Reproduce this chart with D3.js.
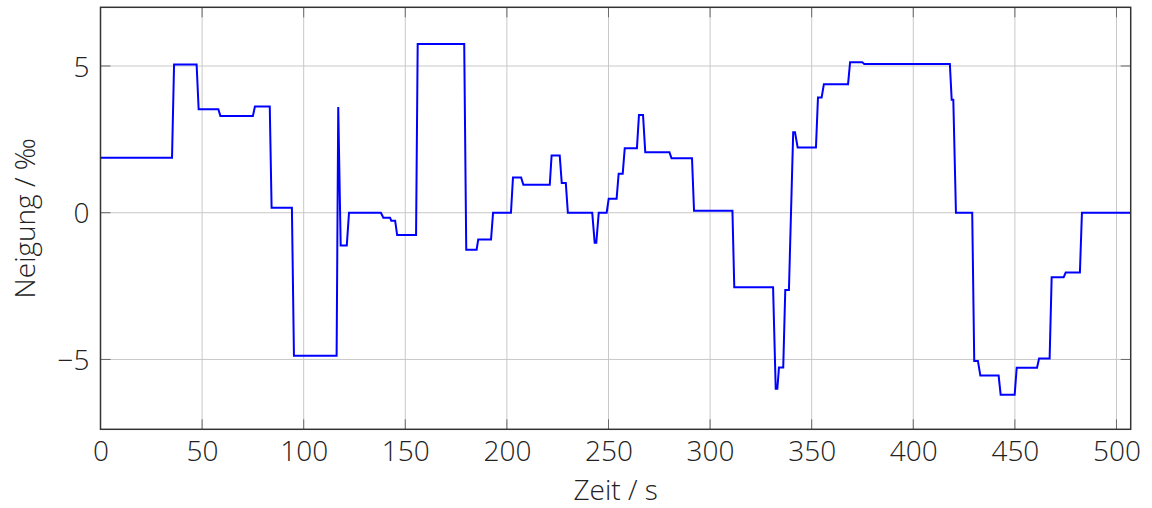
<!DOCTYPE html>
<html>
<head>
<meta charset="utf-8">
<script src="https://cdn.jsdelivr.net/npm/d3@7/dist/d3.min.js"></script>
<style>
  html, body { margin: 0; padding: 0; background: #fff; }
  svg { display: block; }
  text { font-family: "Open Sans", sans-serif; font-weight: 300; fill: #222; }
</style>
</head>
<body>
<svg id="chart" width="1152" height="508"></svg>
<script>
// Data
const timeSec = [0, 35.2, 36.2, 47.3, 48.3, 58, 59, 75, 76, 83.3, 84.2, 94.2, 95.2, 116.2, 117, 118.2, 121.2, 122.3,
  138, 139.2, 142.5, 143.1, 145, 146, 155.3, 156.1, 179, 180, 185.1, 185.9, 192.2, 193.2, 202, 203, 207, 208.1,
  221.1, 222, 226, 227, 229, 230, 242, 243.2, 244, 245.2, 249.1, 250.1, 254, 255, 257, 258, 264, 265, 267, 268.1,
  280, 281, 291.1, 292.1, 311, 311.9, 331, 332.3, 333.1, 333.9, 336, 337, 338.8, 340.9, 341.8, 343.1, 352.1, 353.1,
  354.9, 356, 367.9, 368.9, 374.9, 375.9, 418, 418.9, 419.7, 421, 429, 430, 431.8, 433, 442, 443, 449.9, 450.9,
  460.9, 461.9, 467.1, 468.1, 474, 475, 482, 483, 507];
const gradient = [1.87, 1.87, 5.05, 5.05, 3.53, 3.53, 3.30, 3.30, 3.62, 3.62, 0.17, 0.17, -4.87, -4.87, 3.6, -1.12, -1.12, 0,
  0, -0.17, -0.17, -0.27, -0.27, -0.76, -0.76, 5.75, 5.75, -1.26, -1.26, -0.91, -0.91, 0, 0, 1.2, 1.2, 0.95,
  0.95, 1.95, 1.95, 1.01, 1.01, 0, 0, -1.02, -1.02, 0, 0, 0.48, 0.48, 1.33, 1.33, 2.2, 2.2, 3.33, 3.33, 2.06,
  2.06, 1.86, 1.86, 0.07, 0.07, -2.54, -2.54, -6.0, -6.0, -5.27, -5.27, -2.63, -2.63, 2.74, 2.74, 2.22, 2.22, 3.93,
  3.93, 4.38, 4.38, 5.13, 5.13, 5.07, 5.07, 3.85, 3.85, 0, 0, -5.05, -5.05, -5.55, -5.55, -6.2, -6.2, -5.28,
  -5.28, -4.97, -4.97, -2.2, -2.2, -2.04, -2.04, 0, 0];
const xTicks = [0, 50, 100, 150, 200, 250, 300, 350, 400, 450, 500];
const yTicks = [-5, 0, 5];
const xLabel = "Zeit / s";
const yLabel = "Neigung / ‰";

const pL = 100.5, pR = 1130.7, pT = 7.3, pB = 429.3;
const svg = d3.select("#chart");
const x = d3.scaleLinear().domain([0, 507]).range([pL, pR]);
const y = d3.scaleLinear().domain([-7.38, 7]).range([pB, pT]);

// grid
const grid = svg.append("g");
grid.selectAll("line.gx").data(xTicks).join("line")
  .attr("class", "gx")
  .attr("x1", d => x(d)).attr("x2", d => x(d)).attr("y1", pT).attr("y2", pB)
  .attr("stroke", "#c8c8c8").attr("stroke-width", 1);
grid.selectAll("line.gy").data(yTicks).join("line")
  .attr("class", "gy")
  .attr("x1", pL).attr("x2", pR).attr("y1", d => y(d)).attr("y2", d => y(d))
  .attr("stroke", "#c8c8c8").attr("stroke-width", 1);

// inward ticks on all sides
const tl = 10;
const ticks = svg.append("g").attr("stroke", "#6a6a6a").attr("stroke-width", 1);
xTicks.forEach(d => {
  ticks.append("line").attr("x1", x(d)).attr("x2", x(d)).attr("y1", pB).attr("y2", pB - tl);
  ticks.append("line").attr("x1", x(d)).attr("x2", x(d)).attr("y1", pT).attr("y2", pT + tl);
});
yTicks.forEach(d => {
  ticks.append("line").attr("x1", pL).attr("x2", pL + tl).attr("y1", y(d)).attr("y2", y(d));
  ticks.append("line").attr("x1", pR).attr("x2", pR - tl).attr("y1", y(d)).attr("y2", y(d));
});

// line
const pts = timeSec.map((t, i) => [t, gradient[i]]);
svg.append("path").datum(pts)
  .attr("fill", "none").attr("stroke", "#0000ff").attr("stroke-width", 2)
  .attr("stroke-linejoin", "miter")
  .attr("d", d3.line().x(d => x(d[0])).y(d => y(d[1])));

// frame
svg.append("rect").attr("x", pL).attr("y", pT).attr("width", pR - pL).attr("height", pB - pT)
  .attr("fill", "none").attr("stroke", "#333").attr("stroke-width", 1.5);

// axis labels via d3 axes (text only)
const xAxis = d3.axisBottom(x).tickValues(xTicks).tickSize(0).tickPadding(0);
const gx = svg.append("g").attr("transform", `translate(0,${pB})`).call(xAxis);
gx.select(".domain").remove();
gx.selectAll("text").attr("dy", null).attr("y", 32).style("font-size", "28px")
  .style("font-family", "'Open Sans', sans-serif").style("font-weight", 300).attr("fill", "#222");

const yAxis = d3.axisLeft(y).tickValues(yTicks).tickSize(0).tickPadding(0)
  .tickFormat(d => d < 0 ? "\u2212" + Math.abs(d) : String(d));
const gy = svg.append("g").attr("transform", `translate(${pL - 11},0)`).call(yAxis);
gy.select(".domain").remove();
gy.selectAll("text").attr("dy", "0.36em").attr("x", 0).style("font-size", "28px")
  .style("font-family", "'Open Sans', sans-serif").style("font-weight", 300).attr("fill", "#222");

svg.append("text").attr("x", (pL + pR) / 2).attr("y", 500)
  .attr("text-anchor", "middle").style("font-size", "28px").text(xLabel);
svg.append("text").attr("transform", `translate(35,${(pT + pB) / 2}) rotate(-90)`)
  .attr("text-anchor", "middle").style("font-size", "28px").text(yLabel);
</script>
</body>
</html>
